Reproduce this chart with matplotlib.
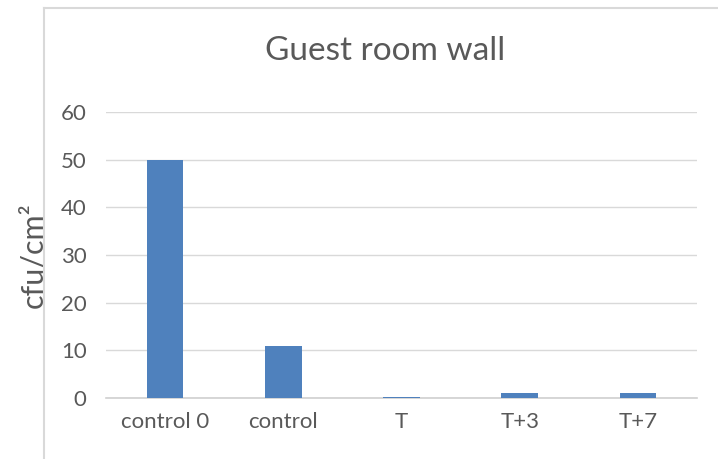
import matplotlib
matplotlib.use("Agg")
import matplotlib.pyplot as plt
from matplotlib.lines import Line2D

categories = ["control 0", "control", "T", "T+3", "T+7"]
values = [50, 11, 0.3, 1, 1]
yticks = [0, 10, 20, 30, 40, 50, 60]

plt.rcParams['font.family'] = ['Lato', 'DejaVu Sans']
text_color = '#595959'

fig = plt.figure(figsize=(7.18, 4.59), dpi=100)
ax = fig.add_axes([106/718, 1 - 398/459, (697 - 106)/718, (398 - 112)/459])

x = range(len(categories))
ax.bar(x, values, width=0.31, color='#4f81bd', zorder=3)

ax.set_xlim(-0.5, len(categories) - 0.5)
ax.set_ylim(0, 60)
ax.set_yticks(yticks)
ax.set_xticks(list(x))
ax.set_xticklabels(categories)
ax.tick_params(axis='both', length=0, labelsize=16, colors=text_color)
ax.tick_params(axis='x', pad=10)
ax.tick_params(axis='y', pad=14)

ax.grid(axis='y', color='#d9d9d9', linewidth=1, zorder=0)
for s in ['top', 'right', 'left']:
    ax.spines[s].set_visible(False)
ax.spines['bottom'].set_color('#d0d0d0')
ax.spines['bottom'].set_linewidth(1.2)

ax.set_ylabel("cfu/cm²", fontsize=22, color=text_color, labelpad=10)
fig.text(0.537, 1 - 51/459, "Guest room wall", ha='center', va='center',
         fontsize=24, color=text_color)

# chart area border (top and left edges)
fig.add_artist(Line2D([44/718, 44/718], [0, 1 - 8/459], color='#d9d9d9', lw=1.5))
fig.add_artist(Line2D([44/718, 1], [1 - 8/459, 1 - 8/459], color='#d9d9d9', lw=1.5))

fig.savefig("out.png", dpi=100, facecolor='white')
